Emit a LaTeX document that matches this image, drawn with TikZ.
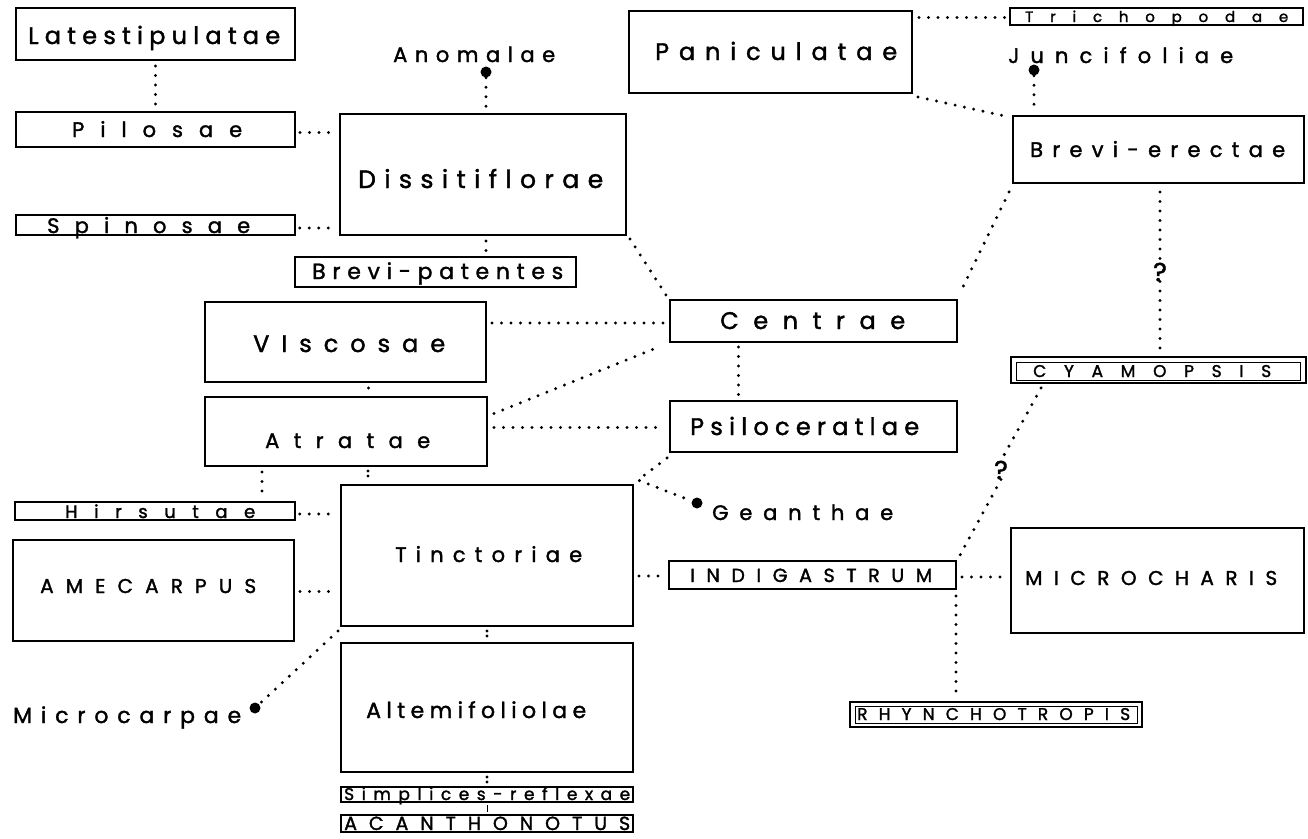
\documentclass[tikz,border=0pt]{standalone}
\usepackage{fontspec}
\setmainfont{Poppins}[FakeBold=1.6]
\usetikzlibrary{calc,fit}
\def\spread#1#2{\makebox[#1][s]{\spreadaux#2\relax}}
\def\spreadaux#1{#1\futurelet\spnext\spreadcheck}
\def\spreadcheck{\ifx\spnext\relax\expandafter\spreadend\else\hfil\expandafter\spreadaux\fi}
\def\spreadend\relax{}
\newcommand\lbl[6]{\node[tx] (#1) at (#2,#3) {\fontsize{#4}{#4}\selectfont\spread{#5pt}{#6}};}
\begin{document}
\begin{tikzpicture}[x=1pt,y=-1pt,
  bx/.style={draw, line width=1.9pt, inner sep=0pt, rectangle},
  tbx/.style={draw, line width=1.5pt, inner sep=0pt, rectangle},
  inbx/.style={draw, line width=1pt, inner sep=0pt, rectangle},
  tx/.style={anchor=base west, inner sep=0pt},
  dl/.style={line width=3.3pt, line cap=round, dash pattern=on 0pt off 9.5pt},
  dls/.style={line width=3.3pt, line cap=round, dash pattern=on 0pt off 5pt},
  dotn/.style={circle, fill, inner sep=0pt, minimum size=11pt},
  qn/.style={inner sep=0pt, font=\fontsize{26}{26}\selectfont}]
\useasboundingbox (0,0) rectangle (1308,838);
\fill[white] (0,0) rectangle (1308,838);
% boxes
\node[bx, fit={(16,8) (295,60)}] (lat) {};
\node[bx, fit={(16,112) (295,147)}] (pil) {};
\node[tbx, fit={(16,215) (295,235)}] (spi) {};
\node[bx, fit={(340,114) (626,235)}] (dis) {};
\node[bx, fit={(295,257) (576,287)}] (bpa) {};
\node[bx, fit={(629,11) (912,93)}] (pan) {};
\node[tbx, fit={(1010,8) (1303,25)}] (tri) {};
\node[bx, fit={(1013,116) (1304,183)}] (bre) {};
\node[bx, fit={(205,302) (486,382)}] (vis) {};
\node[bx, fit={(205,397) (487,466)}] (atr) {};
\node[tbx, fit={(15,502) (295,520)}] (hir) {};
\node[bx, fit={(341,485) (633,626)}] (tin) {};
\node[bx, fit={(13,540) (294,641)}] (ame) {};
\node[bx, fit={(341,643) (633,772)}] (alt) {};
\node[tbx, fit={(341,787) (633,802)}] (sim) {};
\node[tbx, fit={(341,815) (633,832)}] (aca) {};
\node[bx, fit={(670,300) (957,342)}] (cen) {};
\node[bx, fit={(670,401) (957,452)}] (psi) {};
\node[bx, fit={(669,561) (956,589)}] (ind) {};
\node[bx, fit={(1011,528) (1304,633)}] (mic) {};
\node[bx, fit={(1011,357) (1306,383)}] (cya) {};
\node[inbx, fit={(1016,362) (1300,380)}] (cyai) {};
\node[bx, fit={(850,702) (1142,727)}] (rhy) {};
\node[inbx, fit={(855,706) (1137,723)}] (rhyi) {};
% labels
\lbl{t-lat}{28}{44}{24}{252}{Latestipulatae}
\lbl{t-pil}{72}{137}{21}{170}{Pilosae}
\lbl{t-spi}{47}{233}{21}{203}{Spinosae}
\lbl{t-dis}{358}{188}{25}{245}{Dissitiflorae}
\lbl{t-ano}{393}{62}{21}{162}{Anomalae}
\lbl{t-bpa}{312}{279}{22}{251}{Brevi-patentes}
\lbl{t-pan}{655}{60}{24}{242}{Paniculatae}
\lbl{t-tri}{1025}{22}{15}{263}{Trichopodae}
\lbl{t-jun}{1008}{63}{21}{225}{Juncifoliae}
\lbl{t-bre}{1030}{157}{21}{255}{Brevi-erectae}
\lbl{t-vis}{253}{352}{24}{192}{VIscosae}
\lbl{t-atr}{265}{448}{21}{165}{Atratae}
\lbl{t-hir}{65}{518}{18}{190}{Hirsutae}
\lbl{t-tin}{395}{562}{21}{187}{Tinctoriae}
\lbl{t-ame}{40}{593}{20}{216}{AMECARPUS}
\lbl{t-alt}{366}{718}{22}{220}{Altemifoliolae}
\lbl{t-mcp}{13}{723}{22}{228}{Microcarpae}
\lbl{t-sim}{344}{800}{17}{286}{Simplices-reflexae}
\lbl{t-aca}{344}{830}{19}{286}{ACANTHONOTUS}
\lbl{t-cen}{720}{329}{24}{185}{Centrae}
\lbl{t-psi}{690}{435}{24}{229}{Psiloceratlae}
\lbl{t-gea}{712}{520}{21}{181}{Geanthae}
\lbl{t-ind}{690}{582}{19}{242}{INDIGASTRUM}
\lbl{t-mic}{1025}{585}{20}{252}{MICROCHARIS}
\lbl{t-cya}{1033}{377}{17}{238}{CYAMOPSIS}
\lbl{t-rhy}{857}{720}{17}{273}{RHYNCHOTROPIS}
% dots and question marks
\node[dotn] (adot) at (486,72) {};
\node[dotn] (jdot) at (1034,70) {};
\node[dotn] (gdot) at (697,503) {};
\node[dotn] (mdot) at (255,708) {};
\node[qn] (q1) at (1160,272) {?};
\node[qn] (q2) at (1001,470) {?};
\coordinate (gbend) at (638,480);
% connectors
\draw[dl] ([yshift=-5pt]lat.south) -- ([yshift=5pt]pil.north);
\draw[dl] ($(pil.east)+(4,3)$) -- ($(pil.east -| dis.west)+(-6,3)$);
\draw[dl] ($(spi.east)+(4,3)$) -- ($(spi.east -| dis.west)+(-6,3)$);
\draw[dl] (adot) -- ($(adot |- dis.north)+(0,-6)$);
\draw[dl] ($(adot |- dis.south)+(0,5)$) -- ($(adot |- bpa.north)+(0,-5)$);
\draw[dl] ($(dis.south east)+(3,3)$) -- ($(cen.north west)+(-3,-4)$);
\draw[dl] ($(pan.south east)+(5,3)$) -- ($(bre.north west)+(-7,1)$);
\draw[dl] ($(tri.west -| pan.east)+(6,1)$) -- ($(tri.west)+(-4,1)$);
\draw[dl] (jdot) -- ($(jdot |- bre.north)+(0,-6)$);
\draw[dl] ($(bre.south west)+(-3,8)$) -- ($(cen.north east)+(2,-6)$);
\draw[dl] ($(q1 |- bre.south)+(0,8)$) -- (q1.north);
\draw[dl] (q1.south) -- ($(q1 |- cya.north)+(0,-6)$);
\draw[dl] ($(cen.west -| vis.east)+(5,2)$) -- ($(cen.west)+(-5,2)$);
\draw[dls] ($(vis.south)+(23,5)$) -- ($(atr.north)+(23,-4)$);
\draw[dl] ($(atr.east)+(6,-18)$) -- ($(cen.south west)+(-8,3)$);
\draw[dl] ($(psi.west -| atr.east)+(6,1)$) -- ($(psi.west)+(-5,1)$);
\draw[dl] ($(cen.south)+(-75,4)$) -- ($(psi.north)+(-75,-5)$);
\draw[dl] ($(psi.south west)+(-2,5)$) -- (gbend) -- (gdot);
\draw[dl] ($(atr.south west)+(58,5)$) -- ($(atr.south west |- hir.north)+(58,-4)$);
\draw[dls] ($(atr.south west)+(164,4)$) -- ($(atr.south west |- tin.north)+(164,-4)$);
\draw[dl] ($(hir.east)+(4,3)$) -- ($(hir.east -| tin.west)+(-5,3)$);
\draw[dl] ($(ame.east)+(5,1)$) -- ($(ame.east -| tin.west)+(-6,1)$);
\draw[dl] ($(ind.west -| tin.east)+(5,1)$) -- ($(ind.west)+(-3,1)$);
\draw[dls] ($(tin.south)+(0,4)$) -- ($(alt.north)+(0,-4)$);
\draw[dl] ($(tin.south west)+(-2,4)$) -- (mdot);
\draw[dls] ($(alt.south)+(0,4)$) -- ($(sim.north)+(0,-3)$);
\draw[line width=0.9pt] ($(sim.south)+(0,2)$) -- ($(aca.north)+(0,-2)$);
\draw[dl] ($(ind.east)+(5,2)$) -- ($(ind.east -| mic.west)+(-4,2)$);
\draw[dl] ($(ind.south east)+(-1,6)$) -- ($(ind.south east |- rhy.north)+(-1,-6)$);
\draw[dl] ($(cya.south west)+(31,4)$) -- (q2.north);
\draw[dl] (q2.south) -- ($(ind.north east)+(2,-3)$);
\end{tikzpicture}
\end{document}
